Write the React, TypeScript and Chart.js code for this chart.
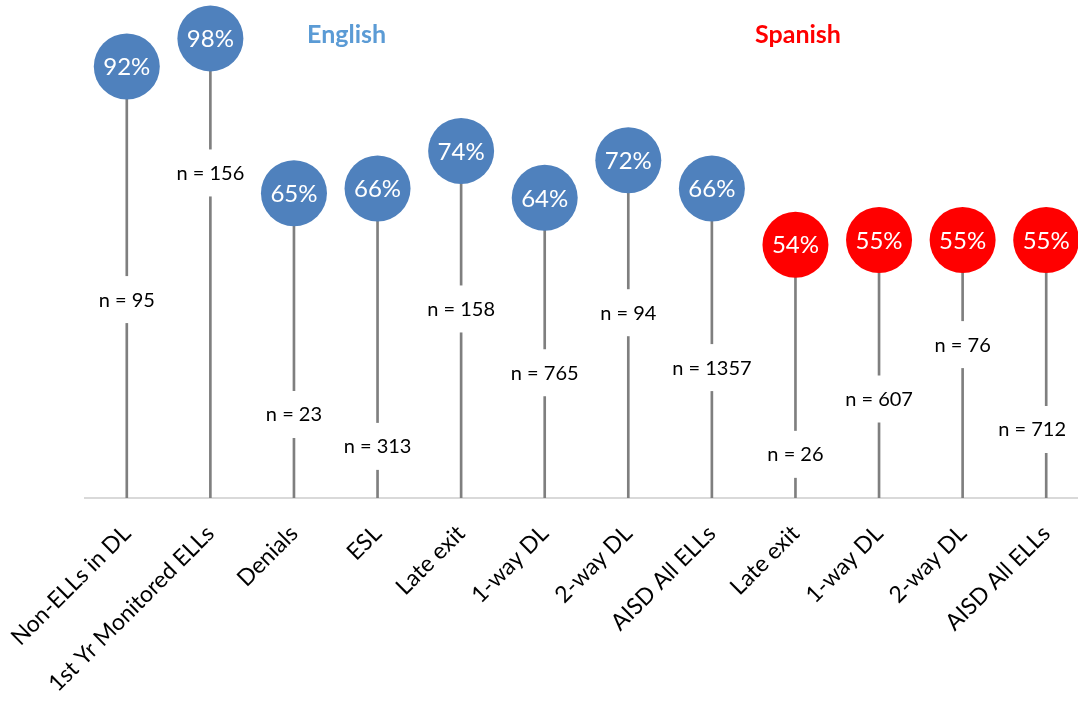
import React, { useEffect, useRef } from 'react';
import { Chart, registerables } from 'chart.js';

Chart.register(...registerables);

const categories = [
  'Non-ELLs in DL',
  '1st Yr Monitored ELLs',
  'Denials',
  'ESL',
  'Late exit',
  '1-way DL',
  '2-way DL',
  'AISD All ELLs',
  'Late exit',
  '1-way DL',
  '2-way DL',
  'AISD All ELLs',
];
const languages = [
  'English', 'English', 'English', 'English', 'English', 'English', 'English', 'English',
  'Spanish', 'Spanish', 'Spanish', 'Spanish',
];
const percentValues = [92, 98, 65, 66, 74, 64, 72, 66, 54, 55, 55, 55];
const sampleSizes = [95, 156, 23, 313, 158, 765, 94, 1357, 26, 607, 76, 712];
// level (in % units) at which each "n = ..." label sits on its stem
const sampleLabelLevels = [42.2, 69.2, 17.7, 10.9, 40.2, 26.6, 39.4, 27.7, 9.2, 21.0, 32.6, 14.5];
const groupTitles = ['English', 'Spanish'];

const COLORS: Record<string, string> = { English: '#4F81BD', Spanish: '#FF0000' };
const TITLE_COLORS: Record<string, string> = { English: '#5B9BD5', Spanish: '#FF0000' };
const TITLE_AT: Record<string, number> = { English: 2.63, Spanish: 8.03 };
const FONT = 'Lato, "Open Sans", sans-serif';
const VISIBLE_RIGHT = 1066;

const labelsPlugin = {
  id: 'lollipopLabels',
  afterDatasetsDraw(chart: any) {
    const ctx = chart.ctx as CanvasRenderingContext2D;
    const meta = chart.getDatasetMeta(0);
    const yScale = chart.scales.y;
    const xScale = chart.scales.x;
    ctx.save();
    // n labels with white background
    ctx.font = `20px ${FONT}`;
    ctx.textAlign = 'center';
    ctx.textBaseline = 'middle';
    meta.data.forEach((pt: any, i: number) => {
      const text = `n = ${sampleSizes[i]}`;
      const w = ctx.measureText(text).width;
      const x = Math.min(pt.x, VISIBLE_RIGHT - w / 2);
      const y = yScale.getPixelForValue(sampleLabelLevels[i]);
      ctx.fillStyle = '#FFFFFF';
      ctx.fillRect(x - w / 2 - 2, y - 24, w + 4, 47);
      ctx.fillStyle = '#000000';
      ctx.fillText(text, x, y);
    });
    // percentage inside circles
    ctx.font = `24px ${FONT}`;
    ctx.fillStyle = '#FFFFFF';
    meta.data.forEach((pt: any, i: number) => {
      ctx.fillText(`${percentValues[i]}%`, pt.x, pt.y + 1);
    });
    // group titles
    ctx.font = `bold 25px ${FONT}`;
    groupTitles.forEach((g) => {
      ctx.fillStyle = TITLE_COLORS[g];
      ctx.fillText(g, xScale.getPixelForValue(TITLE_AT[g]), 35);
    });
    ctx.restore();
  },
};

export default function App() {
  const ref = useRef<HTMLCanvasElement | null>(null);
  useEffect(() => {
    if (!ref.current) return;
    const chart = new Chart(ref.current, {
      type: 'bar',
      data: {
        labels: categories,
        datasets: [
          {
            type: 'line',
            label: 'percent',
            data: percentValues,
            showLine: false,
            pointRadius: 33,
            pointHoverRadius: 33,
            pointBorderWidth: 0,
            pointBackgroundColor: languages.map((l) => COLORS[l]),
            clip: false,
            order: 0,
          } as any,
          {
            type: 'bar',
            label: 'stem',
            data: percentValues,
            backgroundColor: '#7F7F7F',
            barThickness: 2,
            borderWidth: 0,
            order: 1,
          } as any,
        ],
      },
      options: {
        responsive: false,
        animation: false,
        layout: { autoPadding: false, padding: { left: 85, right: 0, top: 29, bottom: 0 } },
        plugins: {
          legend: { display: false },
          tooltip: { enabled: false },
        },
        scales: {
          x: {
            offset: true,
            grid: { display: false, drawTicks: false },
            border: { display: true, color: '#D9D9D9', width: 2 },
            ticks: {
              autoSkip: false,
              maxRotation: 45,
              minRotation: 45,
              padding: 22,
              color: '#000000',
              font: { family: FONT, size: 23 },
            },
            afterFit(scale: any) {
              scale.height = 210;
              scale.paddingLeft = 0;
              scale.paddingRight = 0;
            },
          },
          y: {
            display: false,
            min: 0,
            max: 100,
          },
        },
      },
      plugins: [labelsPlugin],
    } as any);
    return () => chart.destroy();
  }, []);
  return (
    <div style={{ position: 'absolute', left: 0, top: 0, width: 1078, height: 708, overflow: 'hidden', background: '#fff' }}>
      <canvas ref={ref} width={1088} height={708} />
    </div>
  );
}
